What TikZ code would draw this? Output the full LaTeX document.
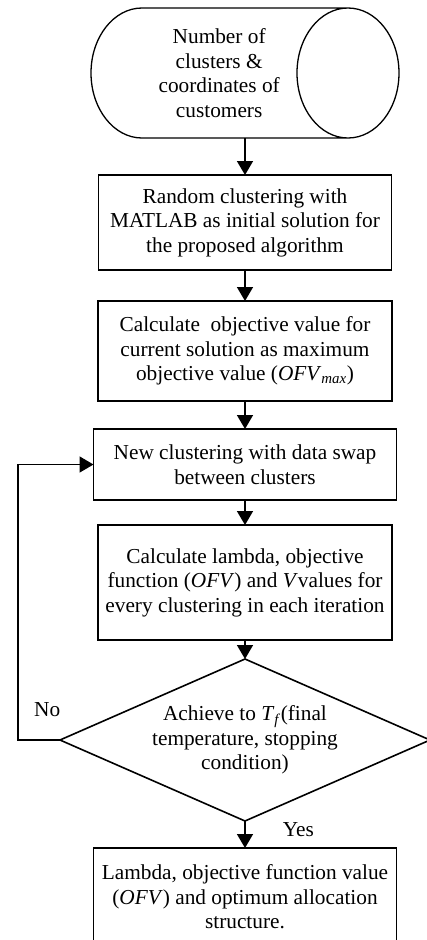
\documentclass[tikz,border=0pt]{standalone}
\usepackage{fontspec}
\setmainfont{Liberation Serif}
\usetikzlibrary{shapes.geometric, arrows.meta, positioning}

\begin{document}
\begin{tikzpicture}[x=1pt, y=1pt, node distance=30pt, line width=1.6pt,
    >={Triangle[length=14pt,width=16pt]}, font=\fontsize{21.3}{24.5}\selectfont]
  \tikzstyle{block} = [draw, rectangle, align=center, inner sep=0pt, outer sep=0pt]
  \tikzstyle{drum} = [draw, cylinder, shape border rotate=0, aspect=1.15, align=center, inner sep=0pt, outer sep=0pt, line width=1.3pt]
  \tikzstyle{decide} = [draw, diamond, aspect=2.3, align=center, inner sep=0pt, outer sep=0pt]
  \tikzstyle{lbl} = [inner sep=0pt]
  \useasboundingbox (0,0) rectangle (427,-940);
  \node [drum, minimum height=308pt, minimum width=130pt, anchor=shape center] (input) at (245,-73) {Number of\\clusters \&\\coordinates of\\customers};
  \coordinate (spine) at (input.shape center |- input.south);
  \node [block, below=37pt of spine, minimum width=293pt, minimum height=95pt] (random) {Random clustering with\\MATLAB as initial solution for\\the proposed algorithm};
  \node [block, below=31pt of random, minimum width=294pt, minimum height=100pt] (ofvmax) {Calculate\ \ objective value for\\current solution as maximum\\objective value (\textit{OFV}\textsubscript{\textit{max}})};
  \node [block, below=28pt of ofvmax, minimum width=303pt, minimum height=71pt] (swap) {New clustering with data swap\\between clusters};
  \node [block, below=25pt of swap, minimum width=294pt, minimum height=115pt] (lambda) {Calculate lambda, objective\\function (\textit{OFV}) and \textit{V}values for\\every clustering in each iteration};
  \node [decide, below=19pt of lambda, minimum width=370pt, minimum height=162pt] (stop) {Achieve to \textit{T}\textsubscript{\textit{f}}(final\\temperature, stopping\\condition)};
  \node [block, below=27pt of stop, minimum width=303pt, minimum height=98pt] (result) {Lambda, objective function value\\(\textit{OFV}) and optimum allocation\\structure.};
  \node [lbl, above left=23pt and -1pt of stop.west] (no) {No};
  \node [lbl, below right=1pt and 37pt of stop.south] (yes) {Yes};

  \draw [->] (spine) -- (random);
  \draw [->] (random) -- (ofvmax);
  \draw [->] (ofvmax) -- (swap);
  \draw [->] (swap) -- (lambda);
  \draw [->] (lambda) -- (stop);
  \draw [->] (stop) -- (result);
  \draw [->] (stop.west) -- ++(-42,0) |- (swap.west);
\end{tikzpicture}
\end{document}
